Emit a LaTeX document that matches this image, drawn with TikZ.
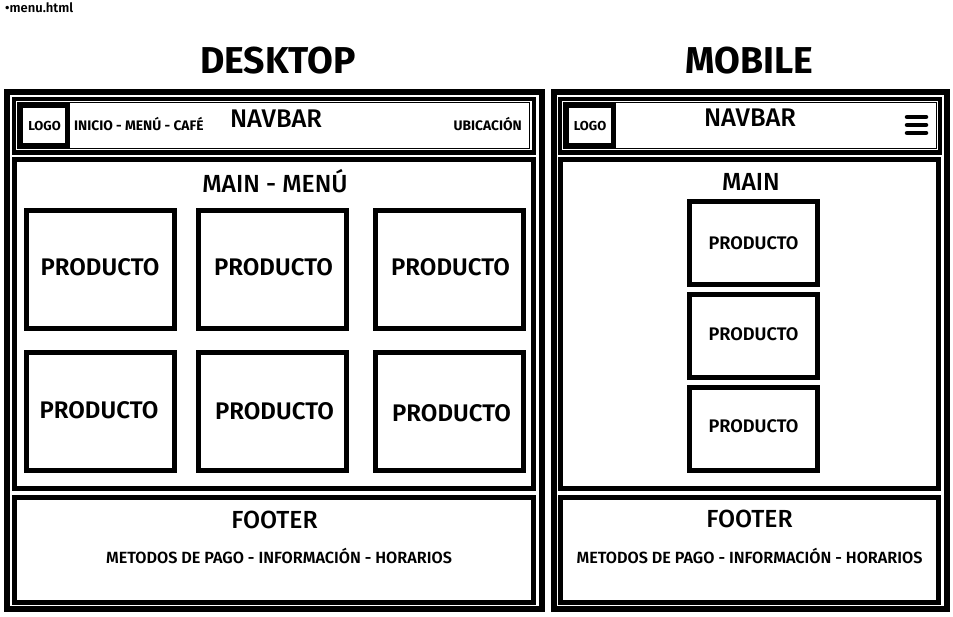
\documentclass[tikz,border=0pt]{standalone}
\usepackage{fontspec}
\setmainfont{Fira Sans}[UprightFont=* Medium, BoldFont=* Bold]
\newfontfamily\semib{Fira Sans SemiBold}
\begin{document}
\begin{tikzpicture}[x=1pt,y=-1pt,
  frame/.style={draw=black,line width=6pt,inner sep=0pt,outer sep=0pt,anchor=north west},
  box/.style={draw=black,line width=5pt,inner sep=0pt,outer sep=0pt,anchor=north west},
  navthick/.style={draw=black,line width=4.5pt,inner sep=0pt,outer sep=0pt,anchor=north west},
  navthin/.style={draw=black,line width=1pt,inner sep=0pt,outer sep=0pt,anchor=north west},
  lbl/.style={inner sep=0pt,anchor=base,text=black},
  title/.style={lbl,font=\bfseries\fontsize{37.4}{40}\selectfont},
  head/.style={lbl,font=\fontsize{24.7}{28}\selectfont},
  prodd/.style={lbl,font=\semib\fontsize{24}{28}\selectfont},
  prodm/.style={lbl,font=\semib\fontsize{18.2}{22}\selectfont},
  small/.style={lbl,font=\bfseries\fontsize{13}{16}\selectfont},
  navlink/.style={lbl,font=\bfseries\fontsize{13.8}{16}\selectfont},
  foot/.style={lbl,font=\semib\fontsize{16.2}{20}\selectfont},
  burger/.style={line width=4.5pt,line cap=round}]
\useasboundingbox (0,0) rectangle (953,617);
\fill[white] (0,0) rectangle (953,617);

% file label
\node[lbl,anchor=base west,font=\semib\fontsize{13}{15}\selectfont] (file) at (5,12.7) {•menu.html};

% titles
\node[title] (tdesk) at (278,74) {DESKTOP};
\node[title] (tmob) at (749,74) {MOBILE};

% ---------------- DESKTOP ----------------
\node[frame,minimum width=535pt,minimum height=517pt] (dframe) at (7,92) {};
\node[navthick,minimum width=520pt,minimum height=53.5pt] (dnav) at (14,99) {};
\node[navthin,minimum width=512pt,minimum height=46pt] (dnavin) at (17.5,102.5) {};
\node[box,minimum width=47pt,minimum height=40pt] (dlogo) at (20.5,105.5) {};
\node[small] (dlogot) at (44.5,131) {LOGO};
\node[navlink,anchor=base west] (dmenu) at (74,131) {INICIO - MENÚ - CAFÉ};
\node[navlink,anchor=base east] (dubic) at (522,131) {UBICACIÓN};
\node[head,font=\fontsize{25.5}{28}\selectfont] (dnavt) at (276,128) {NAVBAR};

\node[box,minimum width=519pt,minimum height=329pt] (dmain) at (14.5,159.5) {};
\node[head] (dmaint) at (275,193) {MAIN - MENÚ};
\node[box,minimum width=148pt,minimum height=118pt] (dp1) at (26.5,210.5) {};
\node[box,minimum width=148pt,minimum height=118pt] (dp2) at (198.5,210.5) {};
\node[box,minimum width=148pt,minimum height=118pt] (dp3) at (375.5,210.5) {};
\node[box,minimum width=148pt,minimum height=118pt] (dp4) at (26.5,352.5) {};
\node[box,minimum width=148pt,minimum height=118pt] (dp5) at (198.5,352.5) {};
\node[box,minimum width=148pt,minimum height=118pt] (dp6) at (375.5,352.5) {};
\node[prodd] (dp1t) at (100,276) {PRODUCTO};
\node[prodd] (dp2t) at (273.5,276) {PRODUCTO};
\node[prodd] (dp3t) at (450.5,276) {PRODUCTO};
\node[prodd] (dp4t) at (99,418.5) {PRODUCTO};
\node[prodd] (dp5t) at (274.5,420) {PRODUCTO};
\node[prodd] (dp6t) at (451.5,421) {PRODUCTO};

\node[box,minimum width=519pt,minimum height=105pt] (dfoot) at (14.5,497.5) {};
\node[head] (dfoott) at (274.5,528) {FOOTER};
\node[foot] (dfootl) at (279,563) {METODOS DE PAGO - INFORMACIÓN - HORARIOS};

% ---------------- MOBILE ----------------
\node[frame,minimum width=393.5pt,minimum height=517pt] (mframe) at (553.5,92) {};
\node[navthick,minimum width=380pt,minimum height=53.5pt] (mnav) at (560,99) {};
\node[navthin,minimum width=373pt,minimum height=46pt] (mnavin) at (563.5,102.5) {};
\node[box,minimum width=46.5pt,minimum height=40pt] (mlogo) at (566.5,105.5) {};
\node[small] (mlogot) at (590,131) {LOGO};
\node[head,font=\fontsize{25.5}{28}\selectfont] (mnavt) at (750,127) {NAVBAR};
\coordinate (b1a) at (907,117); \coordinate (b1b) at (926,117);
\coordinate (b2a) at (907,125); \coordinate (b2b) at (926,125);
\coordinate (b3a) at (907,133); \coordinate (b3b) at (926,133);
\draw[burger] (b1a) -- (b1b);
\draw[burger] (b2a) -- (b2b);
\draw[burger] (b3a) -- (b3b);

\node[box,minimum width=378pt,minimum height=329pt] (mmain) at (560.5,159.5) {};
\node[head] (mmaint) at (751,191) {MAIN};
\node[box,minimum width=128pt,minimum height=83pt] (mp1) at (689.5,201.5) {};
\node[box,minimum width=128pt,minimum height=83pt] (mp2) at (689.5,294.5) {};
\node[box,minimum width=128pt,minimum height=83pt] (mp3) at (689.5,387.5) {};
\node[prodm] (mp1t) at (753.5,249.3) {PRODUCTO};
\node[prodm] (mp2t) at (753.5,340.7) {PRODUCTO};
\node[prodm] (mp3t) at (753.5,432.7) {PRODUCTO};

\node[box,minimum width=378pt,minimum height=105pt] (mfoot) at (560.5,497.5) {};
\node[head] (mfoott) at (749.5,527) {FOOTER};
\node[foot] (mfootl) at (749.5,563) {METODOS DE PAGO - INFORMACIÓN - HORARIOS};
\end{tikzpicture}
\end{document}
